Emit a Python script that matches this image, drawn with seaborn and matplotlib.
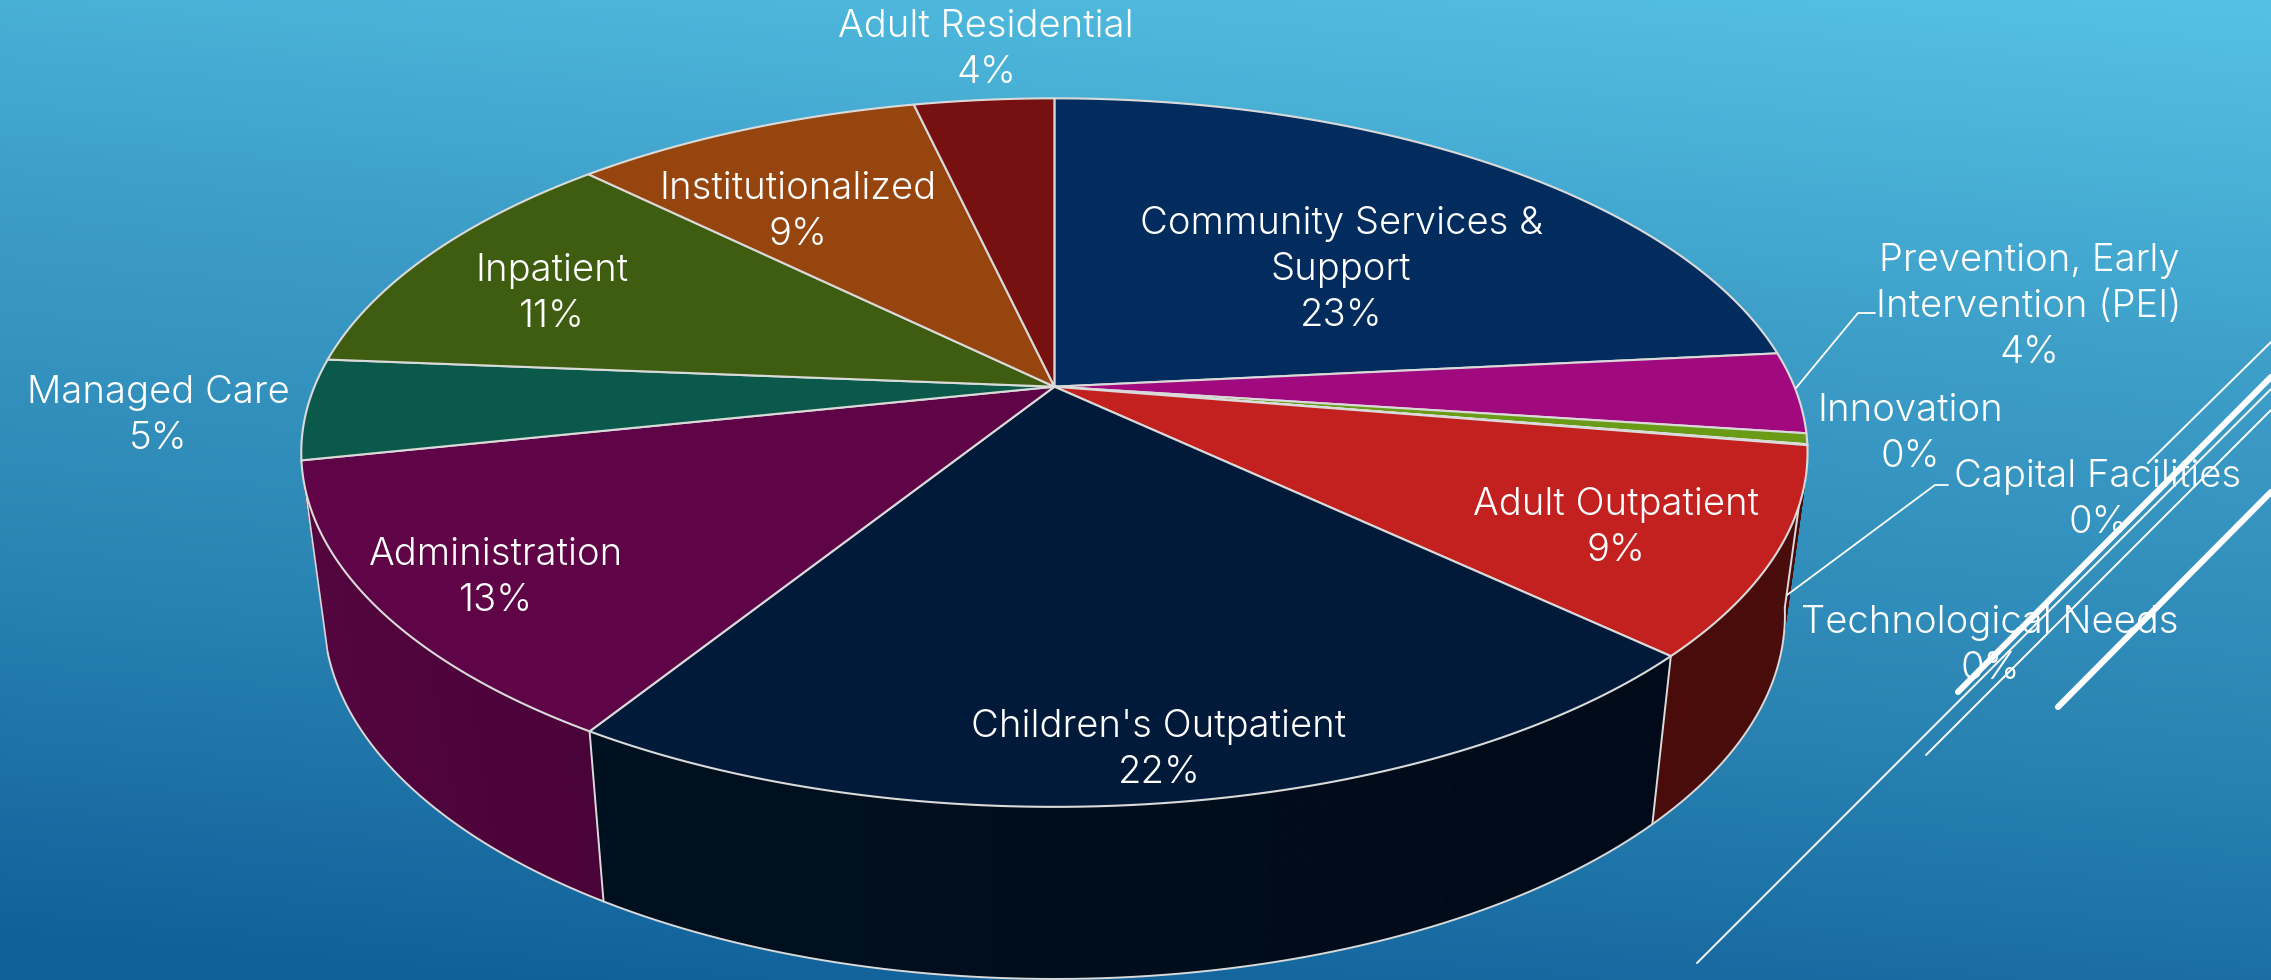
import numpy as np
import matplotlib
matplotlib.use("Agg")
import matplotlib.pyplot as plt
from matplotlib.colors import LinearSegmentedColormap, to_rgb
import seaborn as sns

# Budget shares in percent, clockwise from twelve o'clock
categories = ["Community Services &\nSupport", "Prevention, Early\nIntervention (PEI)",
              "Innovation", "Capital Facilities", "Technological Needs",
              "Adult Outpatient", "Children's Outpatient", "Administration",
              "Managed Care", "Inpatient", "Institutionalized", "Adult Residential"]
shares = [23.4, 3.7, 0.49, 0.02, 0.02, 9.4, 21.8, 12.8, 4.6, 11.1, 9.0, 3.6]
top_colors = ["#022C5E", "#A00A7E", "#6A9B17", "#2A6FBB", "#8A4FBF", "#C2211F",
              "#021A3A", "#5F0446", "#0B594A", "#3F5D10", "#96450F", "#771010"]

# Slices whose outer wall faces the viewer: (slice index, tone at start, tone at end)
front_walls = [(5, "#4A0C0B", "#4A0C0B"), (6, "#000A18", "#00101F"), (7, "#4A0338", "#57053F")]

# Label anchors in pixels
label_xy = [(1341, 270), (2029, 307), (1910, 434), (2098, 500), (1990, 646),
            (1616, 528), (1159, 750), (496, 578), (158, 416), (552, 294),
            (798, 212), (986, 50)]

W, H = 2271, 980
CX, CY = 1054.4, 386.7      # pie centre on the upper face
RX, RY = 740.0, 342.0       # projected radii
K = 0.186                   # perspective foreshortening
FLOOR_SCALE_X, FLOOR_SCALE_Y, FLOOR_DROP = 0.97, 1.0265, 161.0
WALL_TRIM = np.radians(4.5) # the rim stops short of the last wall's upper corner
EDGE = "#DADADA"
FONT = "Inter"
FONT_SIZE = 27.5


def project(theta, floor=False):
    """Map clockwise-from-north angles on the disc to pixel coordinates."""
    u, v = np.sin(theta), np.cos(theta)
    den = 1 + K * v
    dx, dy = RX * u / den, -RY * v / den
    if floor:
        return CX + FLOOR_SCALE_X * dx, CY + FLOOR_DROP + FLOOR_SCALE_Y * dy
    return CX + dx, CY + dy


sns.set_theme(style="white")
plt.rcParams["font.family"] = [FONT, "DejaVu Sans"]
fig = plt.figure(figsize=(W / 100, H / 100), dpi=100)
ax = fig.add_axes([0, 0, 1, 1])
ax.set_xlim(0, W)
ax.set_ylim(H, 0)
ax.axis("off")

# Slide backdrop: diagonal blue gradient
yy, xx = np.mgrid[0:1:245j, 0:1:568j]
ramp = np.clip(0.86 * yy + 0.17 * (1 - xx), 0, 1)
backdrop = LinearSegmentedColormap.from_list(
    "backdrop", ["#55C2E4", "#3D9EC8", "#2A84B3", "#10609A"])
ax.imshow(ramp, extent=(0, W, H, 0), cmap=backdrop, vmin=0, vmax=1,
          aspect="auto", interpolation="bilinear", zorder=0)

# Diagonal accent strokes in the lower right
for (x0, y0, x1, y1, lw) in [(1958, 692, 2271, 377, 4.4), (2058, 707, 2271, 492, 4.4),
                             (1697, 963, 2271, 389, 1.4), (1926, 755, 2271, 410, 1.4),
                             (2148, 463, 2271, 342, 1.4)]:
    ax.plot([x0, x1], [y0, y1], color="white", lw=lw, solid_capstyle="round", zorder=1)

edges = np.concatenate([[0], np.cumsum(shares)]) / sum(shares) * 2 * np.pi
palette = sns.color_palette(top_colors)

# Outer wall, built from narrow strips so the tone drifts along the arc
last_idx = front_walls[-1][0]
for idx, start, end in front_walls:
    a0, a1 = edges[idx], edges[idx + 1]
    trim = WALL_TRIM if idx == last_idx else 0.0
    n = int(np.degrees(a1 - a0)) + 1
    top_grid = np.linspace(a0, a1, n + 1)
    floor_grid = np.linspace(a0, a1 - trim, n + 1)
    c0, c1 = np.array(to_rgb(start)), np.array(to_rgb(end))
    for j in range(n):
        xt, yt = project(np.linspace(top_grid[j], top_grid[j + 1], 4))
        xb, yb = project(np.linspace(floor_grid[j], floor_grid[j + 1], 4), floor=True)
        col = c0 + (c1 - c0) * (j + 0.5) / n
        ax.fill(np.r_[xt, xb[::-1]], np.r_[yt, yb[::-1]], color=col, lw=0.6, zorder=2)
    ax.plot(*zip(project(a0), project(a0, floor=True)), color=EDGE, lw=1.4, zorder=3)

# Silhouette line and lower rim of the wall
end_angle = edges[last_idx + 1]
ax.plot(*zip(project(end_angle), project(end_angle - WALL_TRIM, floor=True)),
        color=EDGE, lw=1.2, zorder=3)
rim = np.linspace(edges[front_walls[0][0]], end_angle - WALL_TRIM, 300)
ax.plot(*project(rim, floor=True), color=EDGE, lw=1.4, zorder=3)

# Upper face of the pie
for i in range(len(shares)):
    t = np.linspace(edges[i], edges[i + 1], max(3, int(np.degrees(edges[i + 1] - edges[i]) * 2)))
    x, y = project(t)
    ax.fill(np.r_[CX, x], np.r_[CY, y], facecolor=palette[i], edgecolor=EDGE,
            lw=1.5, joinstyle="round", zorder=4)

# Leader lines for the labels set outside the pie
ax.plot([1875, 1858, 1796], [313, 313, 388], color="white", lw=1.3, zorder=5)
ax.plot([1948, 1935, 1787], [485, 485, 595], color="white", lw=1.3, zorder=5)

# Category name and rounded share for each slice
for name, val, (lx, ly) in zip(categories, shares, label_xy):
    ax.text(lx, ly, f"{name}\n{val:.0f}%", color="white", fontsize=FONT_SIZE,
            fontweight=300, ha="center", va="center", multialignment="center",
            linespacing=1.36, zorder=6)

fig.savefig("out.png", dpi=100)
